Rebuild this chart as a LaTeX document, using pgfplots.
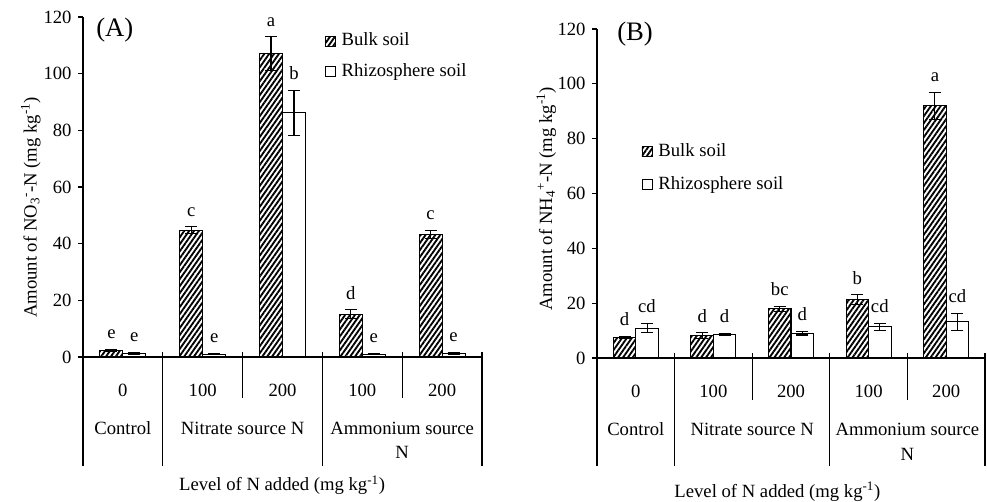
\documentclass[border=0pt]{standalone}
\usepackage{fontspec}
\setmainfont{Liberation Serif}
\usepackage{pgfplots}
\usepackage{pgfplotstable}
\pgfplotsset{compat=1.18}
\usetikzlibrary{patterns.meta}

\pgfplotstableread{
x   bulk  bulkerr rhizo rhizoerr
0.5 2.3   0.3     1.3   0.3
1.5 44.8  1.2     1.0   0.2
2.5 107.0 6.0     86.2  8.0
3.5 15.1  1.6     1.0   0.2
4.5 43.2  1.5     1.2   0.4
}\dataA

\pgfplotstableread{
x   bulk  bulkerr rhizo rhizoerr
0.5 7.5   0.4     10.9  1.7
1.5 8.1   1.1     8.6   0.4
2.5 17.9  1.0     9.1   0.7
3.5 21.3  1.8     11.4  1.3
4.5 92.0  5.0     13.2  3.0
}\dataB

\pgfplotsset{
  panel/.style={
    scale only axis, anchor=south west,
    xmin=0, xmax=5, ymin=0, ymax=120, enlargelimits=false,
    axis x line=bottom, axis y line=left,
    axis line style={-, line width=0.9pt, black},
    ytick={0,20,...,120},
    ytick align=outside, major tick length=3.75pt,
    y tick style={line width=0.9pt, black},
    xtick={0.5,1.5,...,4.5}, xticklabels={0,100,200,100,200},
    x tick style={draw=none},
    xticklabel style={anchor=base, yshift=-26pt},
    /pgf/number format/assume math mode=true,
    ybar=0pt,
    clip=false,
    legend cell align=left,
    legend image code/.code={\draw[##1, line width=0.7pt] (0pt,-3.75pt) rectangle (7.5pt,3.75pt);},
    legend style={draw=none, fill=none, inner sep=0pt, row sep=6pt, column sep=2.5pt,
      nodes={inner sep=2pt, text height=10pt, text depth=3pt}},
  },
  bulkstyle/.style={draw=black, line width=0.8pt,
    pattern={Lines[angle=55, distance=3pt, line width=1.4pt]},
    error bars/.cd, y dir=both, y explicit,
    error bar style={line width=0.8pt, black},
    error mark options={rotate=90, mark size=4.5pt, line width=0.8pt, black}},
  rhizostyle/.style={draw=black, line width=0.8pt, fill=white,
    error bars/.cd, y dir=both, y explicit,
    error bar style={line width=0.8pt, black},
    error mark options={rotate=90, mark size=4.5pt, line width=0.8pt, black}},
}

\newcommand{\lab}[4]{\node[anchor=base, xshift=#3, yshift=8pt] at (axis cs:#1,#2) {#4};}

\begin{document}
\fontsize{14}{17}\selectfont
\begin{tikzpicture}
\useasboundingbox (0,0) rectangle (740.25pt,375.75pt);

% ---------------- Panel A ----------------
\begin{axis}[panel,
  at={(62.25pt,108pt)}, width=299.25pt, height=255pt,
  bar width=17.25pt,
  ylabel={Amount of NO\textsubscript{3}\textsuperscript{-}-N (mg kg\textsuperscript{-1})},
  ylabel style={at={(axis description cs:-0.1165,0.4397)}, anchor=base},
  xlabel={Level of N added (mg kg\textsuperscript{-1})},
  xlabel style={at={(axis description cs:0.499,-0.394)}, anchor=base},
  legend style={at={(axis description cs:0.605,0.963)}, anchor=north west},
]
\addplot[bulkstyle] table[x=x, y=bulk, y error=bulkerr]{\dataA};
\addlegendentry{Bulk soil}
\addplot[rhizostyle] table[x=x, y=rhizo, y error=rhizoerr]{\dataA};
\addlegendentry{Rhizosphere soil}

\pgfplotsinvokeforeach{0,1,3,5}{\draw[line width=0.9pt] (axis cs:#1,0) ++(0,3.75pt) -- ++(0,-85.5pt);}
\pgfplotsinvokeforeach{2,4}{\draw[line width=0.9pt] (axis cs:#1,0) ++(0,3.75pt) -- ++(0,-34.5pt);}

\node[anchor=base, yshift=-57.75pt] at (axis cs:0.5,0) {Control};
\node[anchor=base, yshift=-57.75pt] at (axis cs:2,0) {Nitrate source N};
\node[anchor=base, yshift=-57.75pt] at (axis cs:4,0) {Ammonium source};
\node[anchor=base, yshift=-75.75pt] at (axis cs:4,0) {N};

\lab{0.5}{2.6}{-8.6pt}{e}   \lab{0.5}{1.6}{8.6pt}{e}
\lab{1.5}{46}{-8.6pt}{c}    \lab{1.5}{1.2}{8.6pt}{e}
\lab{2.5}{113}{-8.6pt}{a}   \lab{2.5}{94.2}{8.6pt}{b}
\lab{3.5}{16.7}{-8.6pt}{d}  \lab{3.5}{1.2}{8.6pt}{e}
\lab{4.5}{44.7}{-8.6pt}{c}  \lab{4.5}{1.6}{8.6pt}{e}

\node[anchor=west, inner sep=0pt, font=\fontsize{20}{24}\selectfont] at (rel axis cs:0.0326,0.962) {(A)};
\end{axis}

% ---------------- Panel B ----------------
\begin{axis}[panel,
  at={(447.75pt,107.25pt)}, width=291pt, height=246.75pt,
  bar width=16.9pt,
  ylabel={Amount of NH\textsubscript{4}\textsuperscript{+}-N (mg kg\textsuperscript{-1})},
  ylabel style={at={(axis description cs:-0.116,0.483)}, anchor=base},
  xlabel={Level of N added (mg kg\textsuperscript{-1})},
  xlabel style={at={(axis description cs:0.465,-0.4225)}, anchor=base},
  legend style={at={(axis description cs:0.114,0.663)}, anchor=north west, row sep=8pt},
]
\addplot[bulkstyle] table[x=x, y=bulk, y error=bulkerr]{\dataB};
\addlegendentry{Bulk soil}
\addplot[rhizostyle] table[x=x, y=rhizo, y error=rhizoerr]{\dataB};
\addlegendentry{Rhizosphere soil}

\pgfplotsinvokeforeach{0,1,3,5}{\draw[line width=0.9pt] (axis cs:#1,0) ++(0,3.75pt) -- ++(0,-84.75pt);}
\pgfplotsinvokeforeach{2,4}{\draw[line width=0.9pt] (axis cs:#1,0) ++(0,3.75pt) -- ++(0,-35.25pt);}

\node[anchor=base, yshift=-57.75pt] at (axis cs:0.5,0) {Control};
\node[anchor=base, yshift=-57.75pt] at (axis cs:2,0) {Nitrate source N};
\node[anchor=base, yshift=-57.75pt] at (axis cs:4,0) {Ammonium source};
\node[anchor=base, yshift=-77pt] at (axis cs:4,0) {N};

\lab{0.5}{7.9}{-8.4pt}{d}   \lab{0.5}{12.6}{8.4pt}{cd}
\lab{1.5}{9.2}{-8.4pt}{d}   \lab{1.5}{9.0}{8.4pt}{d}
\lab{2.5}{18.9}{-8.4pt}{bc} \lab{2.5}{9.8}{8.4pt}{d}
\lab{3.5}{23.1}{-8.4pt}{b}  \lab{3.5}{12.7}{8.4pt}{cd}
\lab{4.5}{97}{-8.4pt}{a}    \lab{4.5}{16.2}{8.4pt}{cd}

\node[anchor=west, inner sep=0pt, font=\fontsize{20}{24}\selectfont] at (rel axis cs:0.0515,0.985) {(B)};
\end{axis}
\end{tikzpicture}
\end{document}
